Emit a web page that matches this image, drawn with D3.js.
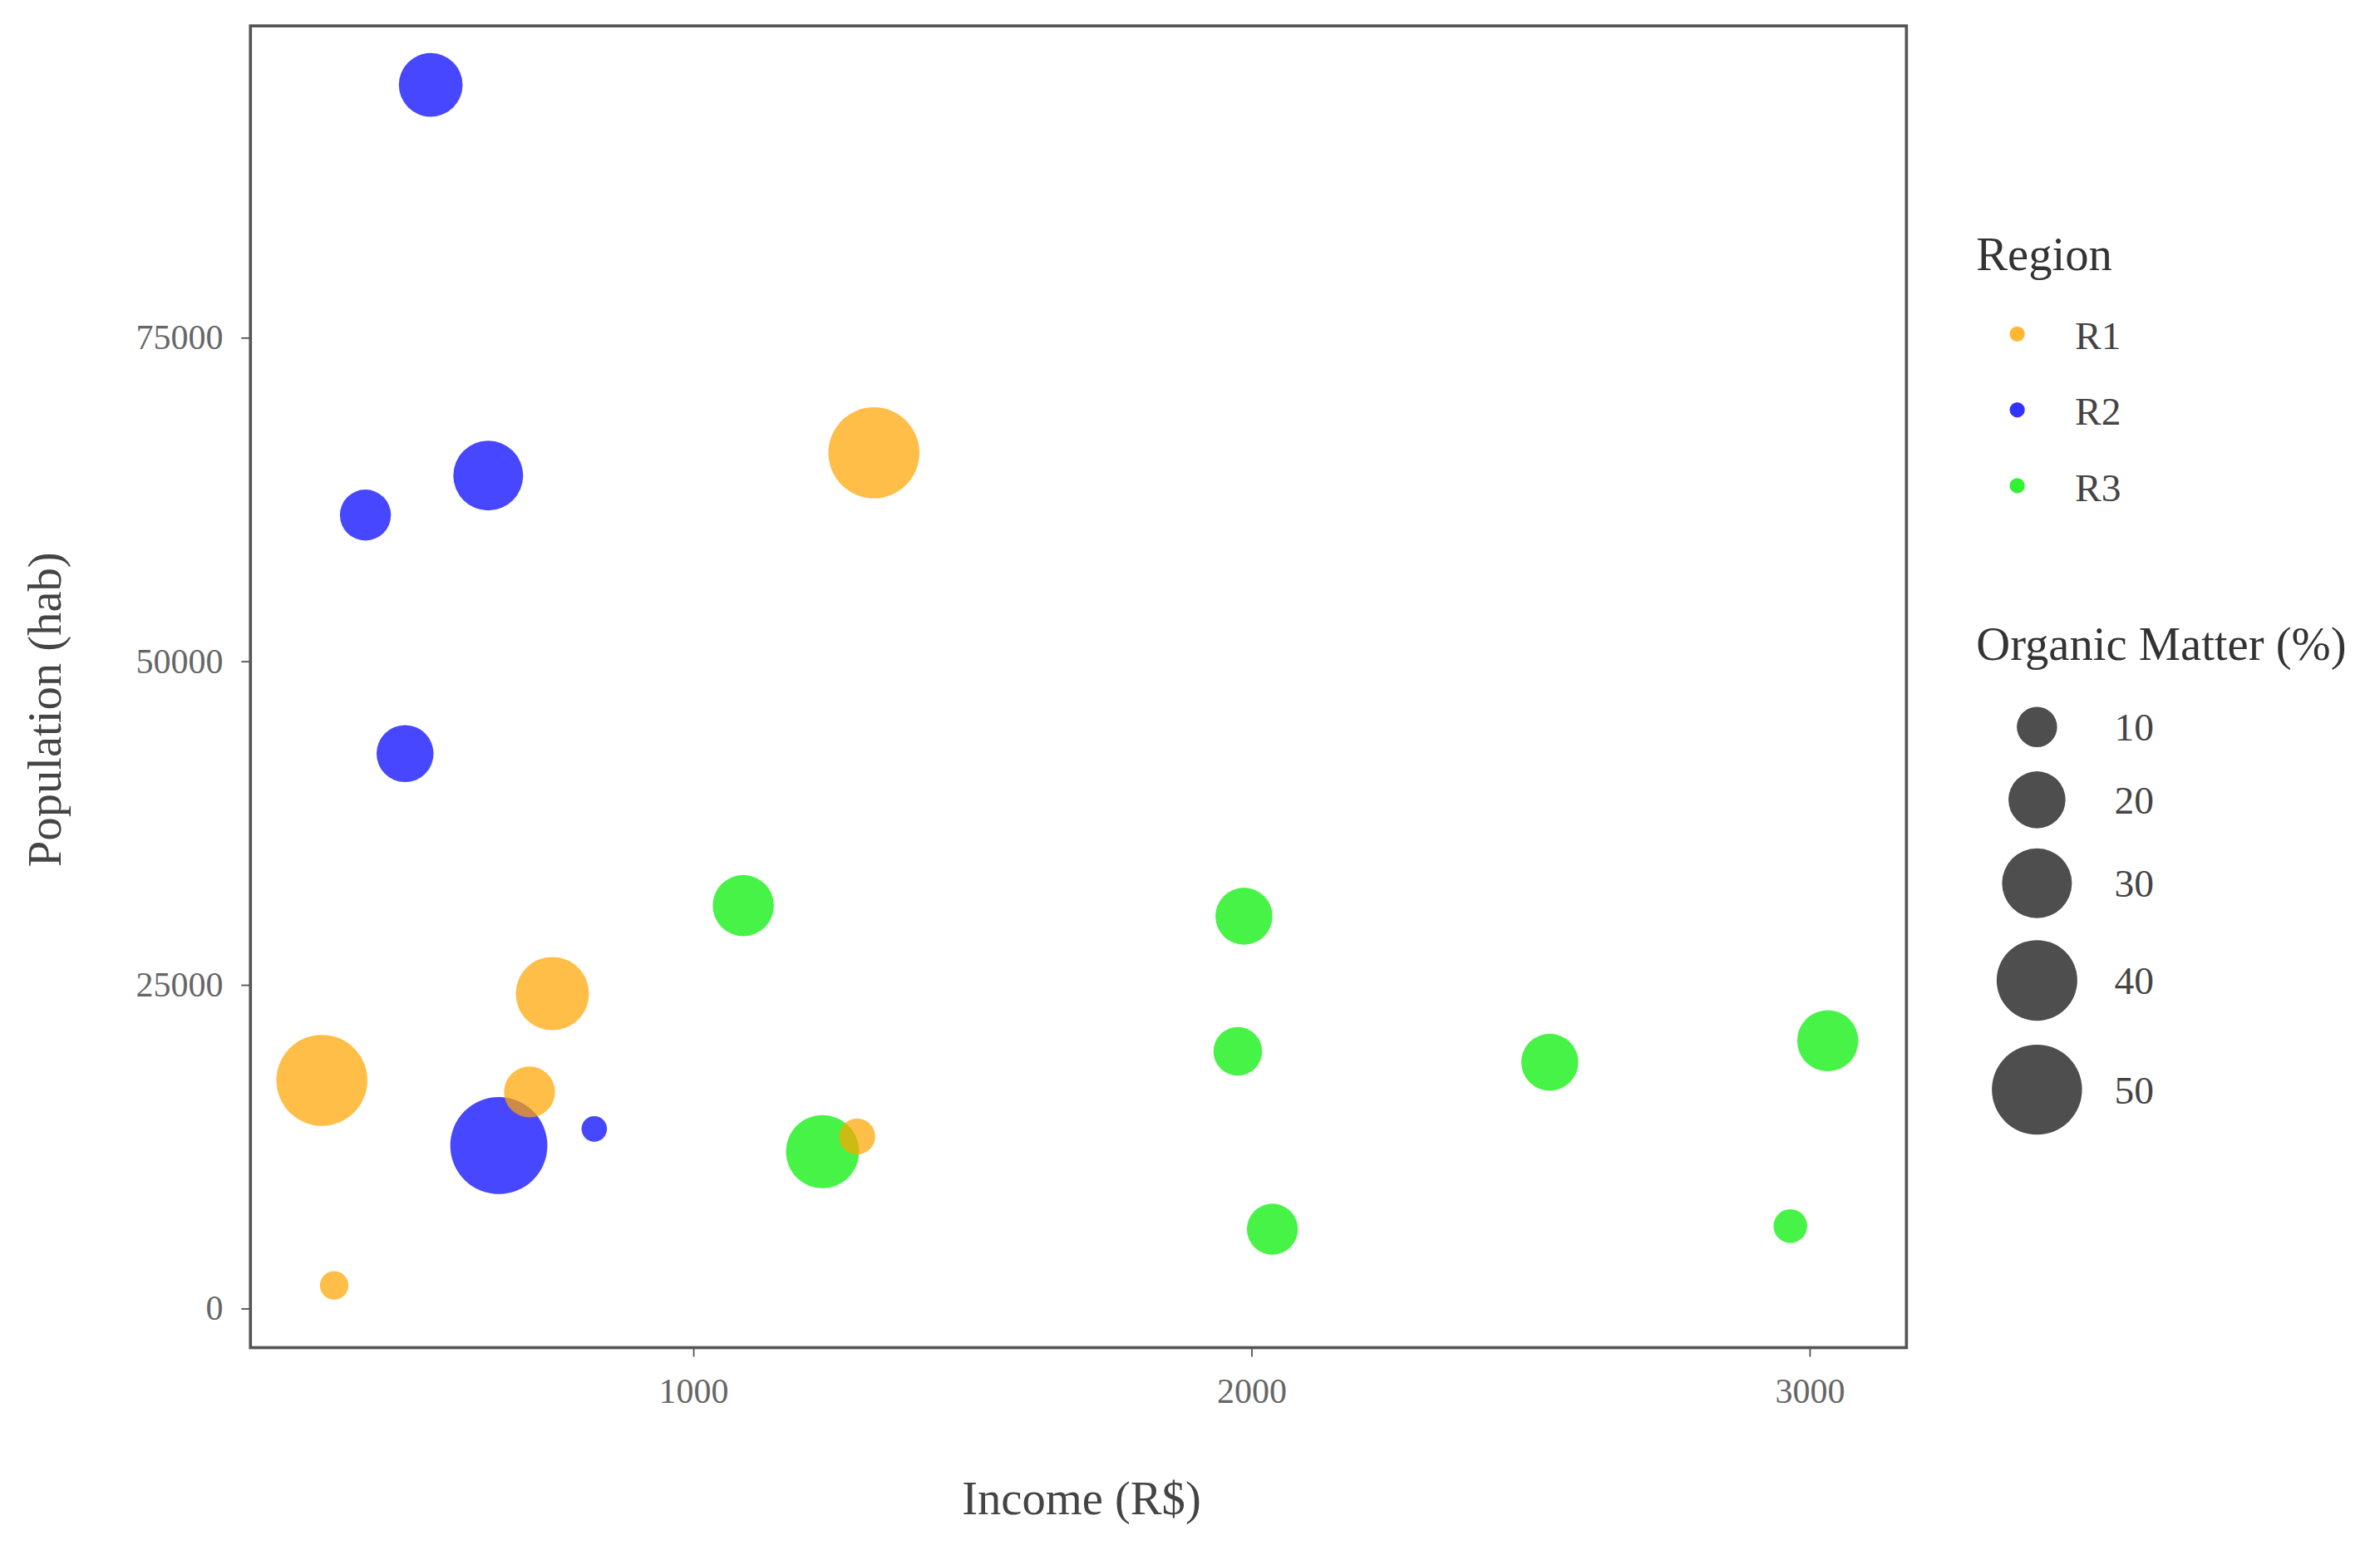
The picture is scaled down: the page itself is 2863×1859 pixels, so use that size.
<!DOCTYPE html>
<html><head><meta charset="utf-8">
<script src="https://cdn.jsdelivr.net/npm/d3@7"></script>
<style>body{margin:0;background:#fff}</style>
</head><body>
<script>
const regions = ["R1","R2","R3"];
const regionColors = ["#FFA500","#0000FF","#00EE00"];
const income = [335,357,707,748,1294,1324, 530,413,633,484,652,823, 1090,1232,1987,1976,2038,2535,3033,2966];
const population = [17600,1760,16700,24300,13260,66080, 94500,61270,64320,42840,12560,13850, 31100,12090,30280,19840,6100,19000,20660,6340];
const organic = [51,5,16,33,8,51, 25,16,30,20,58,4, 23,33,20,14.5,16,20,23,7];
const pointRegion = ["R1","R1","R1","R1","R1","R1","R2","R2","R2","R2","R2","R2","R3","R3","R3","R3","R3","R3","R3","R3"];
const xTicks = [1000,2000,3000];
const yTicks = [0,25000,50000,75000];
const sizeLegend = [10,20,30,40,50];

const W=1568,H=1018;
const svg=d3.select("body").append("svg").attr("width",2863).attr("height",1859).attr("viewBox",`0 0 ${W} ${H}`)
  .style("font-family","'Liberation Serif',serif");
const L=165,R=1256,T=17,B=888;
const x=d3.scaleLinear().domain([207,3174]).range([L,R]);
const y=d3.scaleLinear().domain([-3050,99060]).range([B,T]);
const r=d3.scaleSqrt().domain([0,60]).range([0,4.2*Math.sqrt(60)]);
const col=d3.scaleOrdinal().domain(regions).range(regionColors);

const xa=svg.append("g").attr("transform",`translate(0,${B})`).call(d3.axisBottom(x).tickValues(xTicks).tickSize(6).tickPadding(14).tickFormat(d3.format("d")));
const ya=svg.append("g").attr("transform",`translate(${L},0)`).call(d3.axisLeft(y).tickValues(yTicks).tickSize(6).tickPadding(12).tickFormat(d3.format("d")));
[xa,ya].forEach(a=>{a.select(".domain").remove();a.selectAll("line").attr("stroke","#555");
  a.selectAll("text").attr("fill","#666").style("font-size","23px").style("font-family","'Liberation Serif',serif");});
svg.append("rect").attr("x",L).attr("y",T).attr("width",R-L).attr("height",B-T).attr("fill","none").attr("stroke","#555").attr("stroke-width",2);

const idx=d3.range(income.length).sort((a,b)=>organic[b]-organic[a]);
svg.append("g").selectAll("circle").data(idx).join("circle")
  .attr("cx",i=>x(income[i])).attr("cy",i=>y(population[i])).attr("r",i=>r(organic[i]))
  .attr("fill",i=>col(pointRegion[i])).attr("fill-opacity",0.72);

svg.append("text").attr("x",(L+R)/2+2).attr("y",998).attr("text-anchor","middle").attr("fill","#444").style("font-size","31px").text("Income (R$)");
svg.append("text").attr("transform",`translate(40,${(T+B)/2+15}) rotate(-90)`).attr("text-anchor","middle").attr("fill","#444").style("font-size","31px").text("Population (hab)");

svg.append("text").attr("x",1302).attr("y",178).attr("fill","#333").style("font-size","31px").text("Region");
regions.forEach((g,i)=>{
  const yy=220+i*50;
  svg.append("circle").attr("cx",1329).attr("cy",yy).attr("r",5).attr("fill",col(g)).attr("fill-opacity",0.8);
  svg.append("text").attr("x",1367).attr("y",yy+10).attr("fill","#444").style("font-size","26px").text(g);
});
svg.append("text").attr("x",1302).attr("y",435).attr("fill","#333").style("font-size","31px").text("Organic Matter (%)");
const sy=[479,527,582,646,718];
sizeLegend.forEach((v,i)=>{
  svg.append("circle").attr("cx",1342).attr("cy",sy[i]).attr("r",r(v)).attr("fill","#222").attr("fill-opacity",0.8);
  svg.append("text").attr("x",1393).attr("y",sy[i]+9).attr("fill","#444").style("font-size","26px").text(v);
});
</script>
</body></html>
